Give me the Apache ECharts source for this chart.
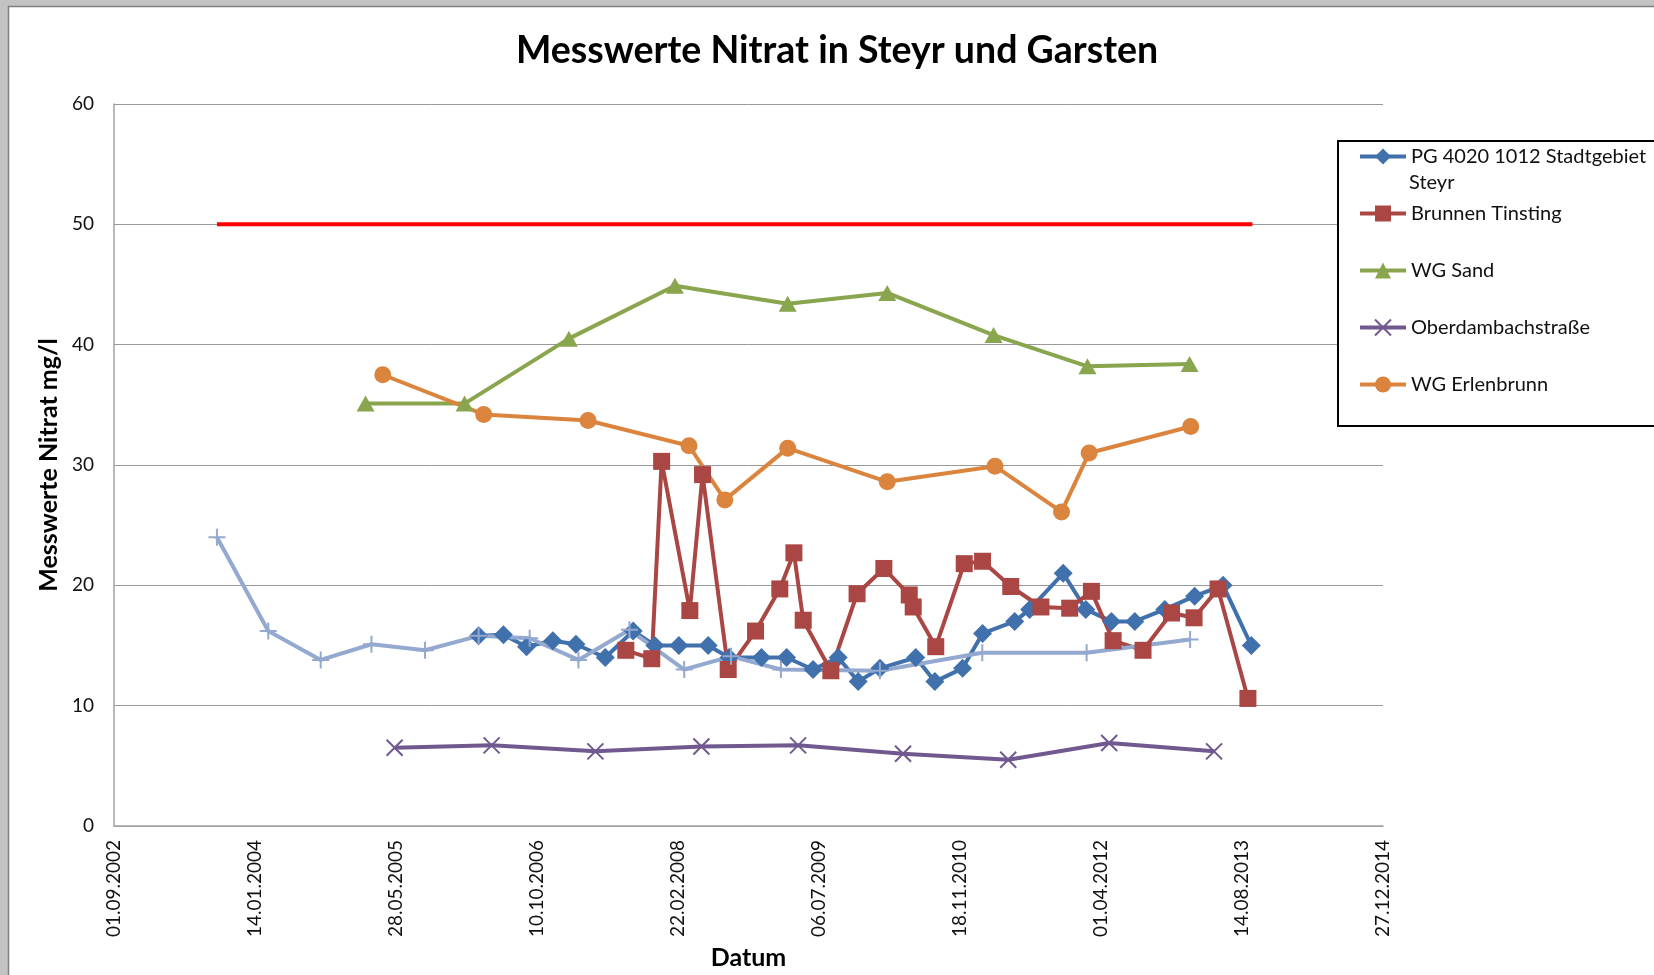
<!DOCTYPE html>
<html>
<head>
<meta charset="utf-8">
<script src="https://cdn.jsdelivr.net/npm/echarts@6/dist/echarts.min.js"></script>
<style>
html,body{margin:0;padding:0;background:#fff;}
#chart{width:1654px;height:975px;}
</style>
</head>
<body>
<div id="chart"></div>
<script>
// ---------- data ----------
const chartTitle = 'Messwerte Nitrat in Steyr und Garsten';
const yAxisTitle = 'Messwerte Nitrat mg/l';
const xAxisTitle = 'Datum';
const xAxisStart = '2002-09-01';
const xAxisEnd = '2014-12-27';
const xTickStepDays = 500;
const yTicks = [0, 10, 20, 30, 40, 50, 60];

const pgName = 'PG 4020 1012 Stadtgebiet Steyr';
const pgLegendLines = ['PG 4020 1012 Stadtgebiet', 'Steyr'];
const pgDates = ['2006-03-17','2006-06-13','2006-09-03','2006-12-05','2007-02-25','2007-06-09','2007-09-16','2007-12-02',
  '2008-02-25','2008-06-08','2008-08-21','2008-12-14','2009-03-13','2009-06-15','2009-09-12','2009-11-22',
  '2010-02-07','2010-06-14','2010-08-21','2010-11-27','2011-02-06','2011-05-31','2011-07-23','2011-11-19',
  '2012-02-07','2012-05-08','2012-07-30','2012-11-13','2013-02-27','2013-06-08','2013-09-16'];
const pgValues = [15.8,15.9,14.9,15.4,15.1,14.0,16.2,15.0,15.0,15.0,14.0,14.0,14.0,13.0,14.0,12.0,
  13.1,14.0,12.0,13.1,16.0,17.0,18.0,21.0,18.0,17.0,17.0,18.0,19.1,20.0,15.0];

const tinName = 'Brunnen Tinsting';
const tinDates = ['2007-08-21','2007-11-21','2007-12-26','2008-04-04','2008-05-19','2008-08-18','2008-11-23',
  '2009-02-17','2009-04-08','2009-05-11','2009-08-17','2009-11-18','2010-02-21','2010-05-22','2010-06-05',
  '2010-08-24','2010-12-03','2011-02-06','2011-05-17','2011-09-01','2011-12-12','2012-02-27','2012-05-14',
  '2012-08-28','2012-12-07','2013-02-25','2013-05-21','2013-09-04'];
const tinValues = [14.6,13.9,30.3,17.9,29.2,13.0,16.2,19.7,22.7,17.1,12.9,19.3,21.4,19.2,18.2,14.9,21.8,22.0,
  19.9,18.2,18.1,19.5,15.4,14.6,17.7,17.3,19.7,10.6];

const sandName = 'WG Sand';
const sandDates = ['2005-02-09','2006-01-26','2007-01-31','2008-02-11','2009-03-17','2010-03-05','2011-03-17','2012-02-13','2013-02-09'];
const sandValues = [35.1,35.1,40.5,44.9,43.4,44.3,40.8,38.2,38.4];

const oberName = 'Oberdambachstraße';
const oberDates = ['2005-05-23','2006-05-02','2007-05-05','2008-05-15','2009-04-23','2010-04-30','2011-05-08','2012-04-30','2013-05-07'];
const oberValues = [6.5,6.7,6.2,6.6,6.7,6.0,5.5,6.9,6.2];

const erlName = 'WG Erlenbrunn';
const erlDates = ['2005-04-11','2006-04-04','2007-04-09','2008-04-01','2008-08-06','2009-03-17','2010-03-05','2011-03-22','2011-11-13','2012-02-19','2013-02-13'];
const erlValues = [37.5,34.2,33.7,31.6,27.1,31.4,28.6,29.9,26.1,31.0,33.2];

const otherName = 'Messstelle (ohne Legende)';
const otherDates = ['2003-09-01','2004-03-01','2004-09-03','2005-03-02','2005-09-08','2006-03-17','2006-09-14','2007-03-06',
  '2007-09-03','2008-03-15','2008-08-28','2009-02-21','2010-02-07','2011-02-05','2012-02-10','2013-02-11'];
const otherValues = [24.0,16.2,13.8,15.1,14.6,15.8,15.6,13.8,16.3,13.0,14.1,13.0,12.9,14.4,14.4,15.5];

const limitName = 'Grenzwert 50 mg/l';
const limitDates = ['2003-09-01','2013-09-20'];
const limitValues = [50, 50];

// ---------- helpers ----------
function toSerial(iso) {
  const p = iso.split('-').map(Number);
  return Date.UTC(p[0], p[1] - 1, p[2]) / 86400000 + 25569;
}
function pad(n) { return (n < 10 ? '0' : '') + n; }
function fmtDate(serial) {
  const d = new Date(Math.round((serial - 25569) * 86400000));
  return pad(d.getUTCDate()) + '.' + pad(d.getUTCMonth() + 1) + '.' + d.getUTCFullYear();
}
function pairs(dates, values) { return dates.map((d, i) => [toSerial(d), values[i]]); }

const FONT = 'Lato, "Open Sans", sans-serif';
const lw = 4;
const C = {
  pg: '#4171AC', tin: '#AA4643', sand: '#89A54E', ober: '#71588F', erl: '#DB843D', other: '#93A9CF', limit: '#FF0000'
};
const xPath = 'path://M0,0L10,10M10,0L0,10';
const plusPath = 'path://M5,0L5,10M0,5L10,5';

function lineSeries(name, dates, values, color, symbol, size, extra) {
  return Object.assign({
    name: name, type: 'line', data: pairs(dates, values),
    symbol: symbol, symbolSize: size,
    lineStyle: { color: color, width: lw },
    itemStyle: { color: color, borderWidth: 0 },
    emphasis: { disabled: true },
    animation: false
  }, extra || {});
}

const series = [
  lineSeries(pgName, pgDates, pgValues, C.pg, 'diamond', [19, 19]),
  lineSeries(tinName, tinDates, tinValues, C.tin, 'rect', 17),
  lineSeries(sandName, sandDates, sandValues, C.sand, 'triangle', [18, 16]),
  lineSeries(oberName, oberDates, oberValues, C.ober, xPath, 16,
    { itemStyle: { color: C.ober, borderColor: C.ober, borderWidth: 2 } }),
  lineSeries(erlName, erlDates, erlValues, C.erl, 'circle', 17),
  lineSeries(otherName, otherDates, otherValues, C.other, plusPath, 17,
    { itemStyle: { color: C.other, borderColor: C.other, borderWidth: 2 } }),
  { name: limitName, type: 'line', data: pairs(limitDates, limitValues), symbol: 'none',
    lineStyle: { color: C.limit, width: 4 }, emphasis: { disabled: true }, animation: false }
];

const chart = echarts.init(document.getElementById('chart'), null, { renderer: 'canvas' });
chart.setOption({
  animation: false,
  backgroundColor: '#ffffff',
  textStyle: { fontFamily: FONT },
  title: {
    text: chartTitle,
    left: 837,
    textAlign: 'center',
    top: 27,
    padding: [5, 0, 5, 0],
    textStyle: { fontFamily: FONT, fontWeight: 'bold', fontSize: 37.5, color: '#000' }
  },
  grid: { left: 114, top: 104, right: 271, bottom: 147, containLabel: false },
  xAxis: {
    type: 'value',
    min: toSerial(xAxisStart), max: toSerial(xAxisEnd), interval: xTickStepDays,
    name: xAxisTitle, nameLocation: 'middle', nameGap: 102,
    nameTextStyle: { fontFamily: FONT, fontWeight: 'bold', fontSize: 25, color: '#000' },
    axisLine: { show: true, lineStyle: { color: '#a3a3a3', width: 1.5 } },
    axisTick: { show: false },
    splitLine: { show: false },
    axisLabel: { rotate: 90, margin: 14, fontSize: 19, color: '#111', fontFamily: FONT, formatter: fmtDate }
  },
  yAxis: {
    type: 'value', min: yTicks[0], max: yTicks[yTicks.length - 1], interval: yTicks[1] - yTicks[0],
    name: yAxisTitle, nameLocation: 'middle', nameGap: 51, nameRotate: 90,
    nameTextStyle: { fontFamily: FONT, fontWeight: 'bold', fontSize: 25, color: '#000' },
    axisLine: { show: true, lineStyle: { color: '#a3a3a3', width: 1.5 } },
    axisTick: { show: false },
    splitLine: { show: true, lineStyle: { color: '#999', width: 1 } },
    axisLabel: { margin: 20, fontSize: 19, color: '#111', fontFamily: FONT }
  },
  legend: {
    orient: 'vertical',
    left: 1338, top: 141,
    padding: [2, 400, 28, 20],
    backgroundColor: '#fff',
    borderColor: '#000', borderWidth: 2,
    itemWidth: 46, itemHeight: 20, itemGap: 30,
    selectedMode: false,
    data: [pgName, tinName, sandName, oberName, erlName],
    formatter: function (n) { return n === pgName ? pgLegendLines[0] : n; },
    lineStyle: { width: lw },
    textStyle: { fontFamily: FONT, fontSize: 20, color: '#111', lineHeight: 27 }
  },
  graphic: [
    { type: 'rect', left: 0, top: 0, shape: { width: 1654, height: 6 }, style: { fill: '#c3c3c3' }, silent: true },
    { type: 'rect', left: 0, top: 0, shape: { width: 8, height: 975 }, style: { fill: '#c3c3c3' }, silent: true },
    { type: 'line', shape: { x1: 8, y1: 6.5, x2: 1654, y2: 6.5 }, style: { stroke: '#7f7f7f', lineWidth: 1.5 }, silent: true },
    { type: 'line', shape: { x1: 8.5, y1: 6, x2: 8.5, y2: 975 }, style: { stroke: '#7f7f7f', lineWidth: 1.5 }, silent: true },
    { type: 'text', x: 1409, y: 183, z: 200, silent: true,
      style: { text: pgLegendLines[1], fontFamily: FONT, fontSize: 20, fill: '#111', verticalAlign: 'middle', align: 'left' } }
  ],
  series: series
});
</script>
</body>
</html>
